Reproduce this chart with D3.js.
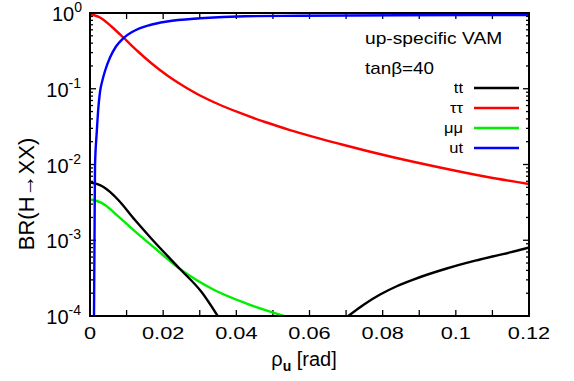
<!DOCTYPE html>
<html>
<head>
<meta charset="utf-8">
<script src="https://cdn.jsdelivr.net/npm/d3@7/dist/d3.min.js"></script>
<style>
  html, body { margin: 0; padding: 0; background: #fff; }
  svg { display: block; }
  text { font-family: "Liberation Sans", Arial, Helvetica, sans-serif; fill: #000; }
</style>
</head>
<body>
<svg id="chart" width="574" height="381"></svg>
<script>
// ---- data ----
const ttX1 = [0, 0.00137, 0.00273, 0.0041, 0.00547, 0.00774, 0.0123, 0.01687, 0.0246, 0.0305, 0.0349];
const ttY1 = [0.0058, 0.00565, 0.00533, 0.0049, 0.00436, 0.0034, 0.00185, 0.00104, 0.000417, 0.000207, 0.0001];
const ttX2 = [0.0706, 0.0749, 0.0793, 0.08384, 0.0884, 0.0975, 0.1066, 0.1185, 0.12];
const ttY2 = [0.0001, 0.000142, 0.000192, 0.000247, 0.000303, 0.000424, 0.000557, 0.000766, 0.000802];

const tautauX = [0, 0.00137, 0.00273, 0.0041, 0.00601, 0.00938, 0.01312, 0.01687, 0.02132, 0.02597, 0.03007, 0.03499, 0.041, 0.04784, 0.05467, 0.06834, 0.082, 0.09567, 0.10792, 0.12];
const tautauY = [0.955, 0.927, 0.872, 0.784, 0.653, 0.4607, 0.3102, 0.2154, 0.1474, 0.1055, 0.0815, 0.0629, 0.0479, 0.0364, 0.0285, 0.01865, 0.01275, 0.00913, 0.00694, 0.00553];

const mumuX = [0, 0.00137, 0.00273, 0.0041, 0.00547, 0.00774, 0.0123, 0.01687, 0.0246, 0.0337, 0.0428, 0.053];
const mumuY = [0.00345, 0.00335, 0.00318, 0.00292, 0.00259, 0.00206, 0.00131, 0.000853, 0.000417, 0.000224, 0.000146, 0.0001];

const utX = [0.00109, 0.00123, 0.00137, 0.00183, 0.00219, 0.00273, 0.00342, 0.0041, 0.00547, 0.00711, 0.00902, 0.01175, 0.0164, 0.02105, 0.03007, 0.04237, 0.0574, 0.08474, 0.12];
const utY = [0.0001, 0.00098, 0.00955, 0.0261, 0.0493, 0.0906, 0.1305, 0.1715, 0.2585, 0.3612, 0.4607, 0.570, 0.694, 0.772, 0.851, 0.907, 0.918, 0.932, 0.941];

const xTicks = [0, 0.02, 0.04, 0.06, 0.08, 0.1, 0.12];
const xTickLabels = ["0", "0.02", "0.04", "0.06", "0.08", "0.1", "0.12"];
const yTickExps = [0, -1, -2, -3, -4];

const seriesNames = ["tt", "\u03c4\u03c4", "\u03bc\u03bc", "ut"];
const seriesColors = ["#000000", "#ff0000", "#00ee00", "#0000ff"];

// ---- layout ----
const L = 90, R = 529, T = 13, B = 316;
const svg = d3.select("#chart");
const x = d3.scaleLinear().domain([0, 0.12]).range([L, R]);
const y = d3.scaleLog().domain([1e-4, 1]).range([B, T]);

svg.append("defs").append("clipPath").attr("id", "clip")
  .append("rect").attr("x", L).attr("y", T).attr("width", R - L).attr("height", B - T);

// minor ticks
const minorX = d3.range(0, 0.1201, 0.01);
const minorY = [];
for (let e = -4; e < 0; e++) for (let m = 2; m <= 9; m++) minorY.push(m * Math.pow(10, e));

const tickG = svg.append("g").attr("stroke", "#000").attr("stroke-width", 1.3);
minorX.forEach(v => {
  const px = x(v);
  tickG.append("line").attr("x1", px).attr("x2", px).attr("y1", B).attr("y2", B - 6);
  tickG.append("line").attr("x1", px).attr("x2", px).attr("y1", T).attr("y2", T + 6);
});
minorY.forEach(v => {
  const py = y(v);
  tickG.append("line").attr("x1", L).attr("x2", L + 3).attr("y1", py).attr("y2", py);
  tickG.append("line").attr("x1", R).attr("x2", R - 3).attr("y1", py).attr("y2", py);
});
yTickExps.forEach(e => {
  const py = y(Math.pow(10, e));
  tickG.append("line").attr("x1", L).attr("x2", L + 6).attr("y1", py).attr("y2", py);
  tickG.append("line").attr("x1", R).attr("x2", R - 6).attr("y1", py).attr("y2", py);
});

// curves
const line = d3.line().x(d => x(d[0])).y(d => y(d[1])).curve(d3.curveMonotoneX);
const plotG = svg.append("g").attr("clip-path", "url(#clip)").attr("fill", "none").attr("stroke-width", 2.4);
function draw(xs, ys, color) {
  plotG.append("path").datum(xs.map((v, i) => [v, ys[i]])).attr("d", line).attr("stroke", color);
}
draw(mumuX, mumuY, seriesColors[2]);
draw(ttX1, ttY1, seriesColors[0]);
draw(ttX2, ttY2, seriesColors[0]);
draw(tautauX, tautauY, seriesColors[1]);
draw(utX, utY, seriesColors[3]);

// frame
svg.append("rect").attr("x", L).attr("y", T).attr("width", R - L).attr("height", B - T)
  .attr("fill", "none").attr("stroke", "#000").attr("stroke-width", 2);

// x tick labels (horizontally widened like the reference)
xTicks.forEach((v, i) => {
  svg.append("text").attr("transform", `translate(${x(v)},339) scale(1.28,1)`)
    .attr("text-anchor", "middle").attr("font-size", 17).text(xTickLabels[i]);
});
// y tick labels
yTickExps.forEach(e => {
  const py = y(Math.pow(10, e));
  const t = svg.append("text").attr("x", e === 0 ? 82 : 81).attr("y", py + 8).attr("text-anchor", "end").attr("font-size", 20);
  t.append("tspan").text("10");
  t.append("tspan").attr("font-size", 14).attr("dy", -9).text(e === 0 ? "0" : "-" + (-e));
});

// axis titles
const xt = svg.append("text").attr("x", 304).attr("y", 366).attr("text-anchor", "middle").attr("font-size", 20);
xt.append("tspan").text("\u03c1");
xt.append("tspan").attr("font-size", 14).attr("font-weight", "bold").attr("dy", 5).text("u");
xt.append("tspan").attr("dy", -5).text(" [rad]");

svg.append("text").attr("transform", "translate(34,194) rotate(-90)").attr("text-anchor", "middle")
  .attr("font-size", 22).text("BR(H\u2192XX)");

// annotations
svg.append("text").attr("transform", "translate(365,44) scale(1.2,1)").attr("font-size", 16).text("up-specific VAM");
svg.append("text").attr("transform", "translate(365,74) scale(1.18,1)").attr("font-size", 16).text("tan\u03b2=40");

// legend
seriesNames.forEach((n, i) => {
  const yy = 88 + i * 20;
  svg.append("text").attr("transform", `translate(463,${yy + 5}) scale(1.1,1)`).attr("text-anchor", "end").attr("font-size", 15).text(n);
  svg.append("line").attr("x1", 474).attr("x2", 519).attr("y1", yy).attr("y2", yy)
    .attr("stroke", seriesColors[i]).attr("stroke-width", 2.4);
});
</script>
</body>
</html>
